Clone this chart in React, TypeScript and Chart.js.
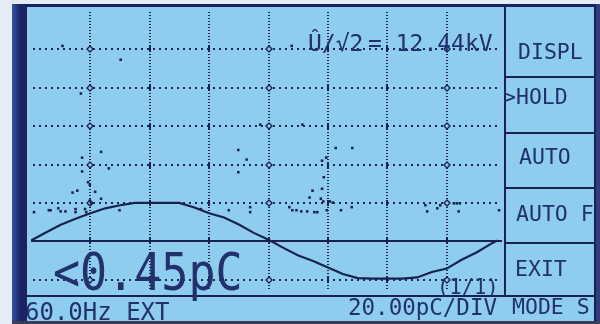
import { useEffect, useRef } from "react";
import { Chart, registerables } from "chart.js";

Chart.register(...registerables);

// ---- data (x in divisions, y in divisions) ----
const waveX = [0, 0.25, 0.5, 0.75, 1, 1.25, 1.5, 1.75, 2, 2.25, 2.5, 2.75, 3, 3.25, 3.5, 3.75, 4, 4.25, 4.5, 4.75, 5, 5.25, 5.5, 5.75, 6, 6.25, 6.5, 6.75, 7, 7.25, 7.5, 7.75, 7.85];
const waveY = [0.02, 0.23, 0.43, 0.59, 0.73, 0.86, 0.94, 1.0, 1.0, 1.0, 1.0, 0.88, 0.73, 0.62, 0.44, 0.22, 0.04, -0.17, -0.37, -0.51, -0.68, -0.85, -0.96, -0.97, -0.97, -0.97, -0.94, -0.8, -0.71, -0.48, -0.29, -0.06, 0.02];

const pdX = [0.53, 1.51, 0.84, 1.18, 0.86, 3.49, 3.63, 3.86, 4.39, 1.31, 0.86, 3.49, 0.96, 0.99, 0.78, 0.7, 1.08, 1.18, 0.99, 1.01, 0.05, 0.3, 0.33, 0.46, 0.5, 0.58, 0.75, 0.75, 0.91, 0.93, 1.49, 3.33, 3.69, 3.69, 2.86, 4.35, 4.57, 5.13, 5.41, 4.97, 4.9, 4.93, 4.74, 4.9, 4.69, 4.88, 4.92, 5.03, 5.08, 4.4, 4.47, 4.55, 4.65, 4.77, 4.82, 4.98, 5.22, 5.4, 6.64, 6.67, 6.84, 6.89, 7.17, 7.2, 7.88, 7.12, 7.22];
const pdY = [5.09, 4.73, 3.85, 2.33, 2.18, 2.38, 2.13, 3.04, 5.09, 1.9, 1.82, 1.8, 1.54, 1.47, 1.32, 1.27, 1.29, 1.11, 1.06, 0.99, 0.76, 0.81, 0.81, 0.86, 0.78, 0.78, 0.84, 0.76, 0.84, 0.76, 0.81, 0.81, 0.89, 0.76, 0.84, 0.89, 3.04, 2.43, 2.43, 2.18, 2.1, 1.67, 1.32, 1.37, 1.14, 1.11, 1.04, 1.04, 1.01, 0.81, 0.81, 0.78, 0.78, 0.76, 0.76, 0.81, 0.81, 0.89, 0.94, 0.78, 0.86, 0.94, 0.99, 0.78, 0.81, 0.99, 0.99];

const gridCols = [1, 2, 3, 4, 5, 6, 7];
const diamondCols = [1, 4, 7];
const gridRows = [-1, 1, 2, 3, 4, 5];

const menuLabels = ["DISPL", ">HOLD", "AUTO", "AUTO F", "EXIT"];
const readout = "<0.45pC";
const voltageLabel = "Û/√2";
const voltageValue = "= 12.44kV";
const statusLeft = "60.0Hz EXT";
const statusMid = "20.00pC/DIV";
const statusRight = "MODE S";
const pageLabel = "(1/1)";

// ---- styles ----
const BG = "#8ecdee";
const INK = "#18214f";
const TEXT = "#22306c";
const GRID = "#1c2657";
const FONT = '"DejaVu Sans Mono", monospace';

const lcdGrid = {
  id: "lcdGrid",
  beforeDatasetsDraw(chart: any) {
    const { ctx, chartArea: a, scales } = chart;
    const x = scales.x;
    const y = scales.y;
    ctx.save();
    ctx.fillStyle = GRID;
    for (const r of gridRows) {
      const py = Math.round(y.getPixelForValue(r));
      for (let px = a.left + 2; px < a.right - 1; px += 6) ctx.fillRect(px, py - 1, 2, 2);
    }
    for (const c of gridCols) {
      const px = Math.round(x.getPixelForValue(c));
      for (let py = a.top + 1; py < a.bottom - 1; py += 3) ctx.fillRect(px - 1, py, 2, 1);
    }
    const y0 = Math.round(y.getPixelForValue(0));
    for (const c of gridCols) {
      const px = Math.round(x.getPixelForValue(c));
      for (const r of gridRows) {
        const py = Math.round(y.getPixelForValue(r));
        if (diamondCols.includes(c)) {
          ctx.beginPath();
          ctx.moveTo(px, py - 3);
          ctx.lineTo(px + 3, py);
          ctx.lineTo(px, py + 3);
          ctx.lineTo(px - 3, py);
          ctx.closePath();
          ctx.fillStyle = BG;
          ctx.fill();
          ctx.strokeStyle = INK;
          ctx.lineWidth = 1.3;
          ctx.stroke();
        } else {
          ctx.fillStyle = INK;
          ctx.fillRect(px - 1, py - 3, 2, 6);
        }
      }
      ctx.fillStyle = INK;
      ctx.fillRect(px - 1, y0 - 3, 2, 6);
      ctx.fillStyle = GRID;
    }
    ctx.fillStyle = INK;
    ctx.fillRect(a.left, y0 - 1, a.right - a.left, 2);
    ctx.restore();
  },
};

function Txt(props: { left: number; top: number; size: number; text: string; scaleY?: number }) {
  return (
    <div
      style={{
        position: "absolute",
        left: props.left,
        top: props.top,
        fontFamily: FONT,
        fontSize: props.size,
        lineHeight: 1,
        whiteSpace: "pre",
        color: TEXT,
        transformOrigin: "top left",
        transform: props.scaleY ? `scaleY(${props.scaleY})` : undefined,
      }}
    >
      {props.text}
    </div>
  );
}

export default function App() {
  const ref = useRef<HTMLCanvasElement>(null);

  useEffect(() => {
    const canvas = ref.current;
    if (!canvas) return;
    const chart = new Chart(canvas, {
      type: "scatter",
      data: {
        datasets: [
          {
            type: "line",
            data: waveX.map((x, i) => ({ x, y: waveY[i] })),
            borderColor: INK,
            borderWidth: 2.2,
            pointRadius: 0,
            tension: 0,
            fill: false,
          } as any,
          {
            type: "scatter",
            data: pdX.map((x, i) => ({ x, y: pdY[i] })),
            pointStyle: "rect",
            pointRadius: 1.8,
            backgroundColor: INK,
            borderWidth: 0,
          } as any,
        ],
      },
      options: {
        animation: false,
        responsive: false,
        maintainAspectRatio: false,
        devicePixelRatio: 1,
        events: [],
        layout: { padding: 0 },
        plugins: { legend: { display: false }, tooltip: { enabled: false } },
        scales: {
          x: { type: "linear", min: 0, max: 7.93, display: false },
          y: { type: "linear", min: -1.32, max: 6, display: false },
        },
      },
      plugins: [lcdGrid],
    });
    return () => chart.destroy();
  }, []);

  const menuTops = [41, 86, 146, 203, 258];
  const menuLefts = [518, 503, 519, 516, 515];
  const seps = [76, 132, 187, 242];

  return (
    <div style={{ position: "fixed", left: 0, top: 0, width: 600, height: 324, overflow: "hidden", background: "#e4ecf5" }}>
      {/* bezel */}
      <div style={{ position: "absolute", left: 12, top: 4, width: 588, height: 320, background: "linear-gradient(90deg,#3355a8 0px,#1c2466 8px,#1a2262 15px)" }} />
      {/* LCD */}
      <div style={{ position: "absolute", left: 27, top: 7, width: 569, height: 314, background: BG }} />
      <div style={{ position: "absolute", left: 596, top: 4, width: 4, height: 320, background: "#2d3f7c" }} />
      <div style={{ position: "absolute", left: 12, top: 321, width: 588, height: 3, background: "#3a3e55" }} />

      <canvas ref={ref} width={479} height={289} style={{ position: "absolute", left: 27, top: 7 }} />

      {/* frame lines */}
      <div style={{ position: "absolute", left: 504, top: 7, width: 2, height: 290, background: INK }} />
      <div style={{ position: "absolute", left: 27, top: 295, width: 569, height: 2, background: INK }} />
      <div style={{ position: "absolute", left: 594, top: 7, width: 2, height: 314, background: INK }} />
      {seps.map((s) => (
        <div key={s} style={{ position: "absolute", left: 504, top: s, width: 92, height: 2, background: INK }} />
      ))}

      {menuLabels.map((m, i) => (
        <Txt key={m} left={menuLefts[i]} top={menuTops[i]} size={21.5} text={m} />
      ))}

      <Txt left={308} top={32} size={23} text={voltageLabel} />
      <Txt left={368} top={32} size={23} text={voltageValue} />
      <Txt left={53} top={246} size={45} text={readout} scaleY={1.16} />
      <Txt left={437} top={277} size={20.5} text={pageLabel} />
      <Txt left={25} top={300} size={24} text={statusLeft} />
      <Txt left={348} top={296} size={22.5} text={statusMid} />
      <Txt left={512} top={296} size={21.5} text={statusRight} />
    </div>
  );
}
